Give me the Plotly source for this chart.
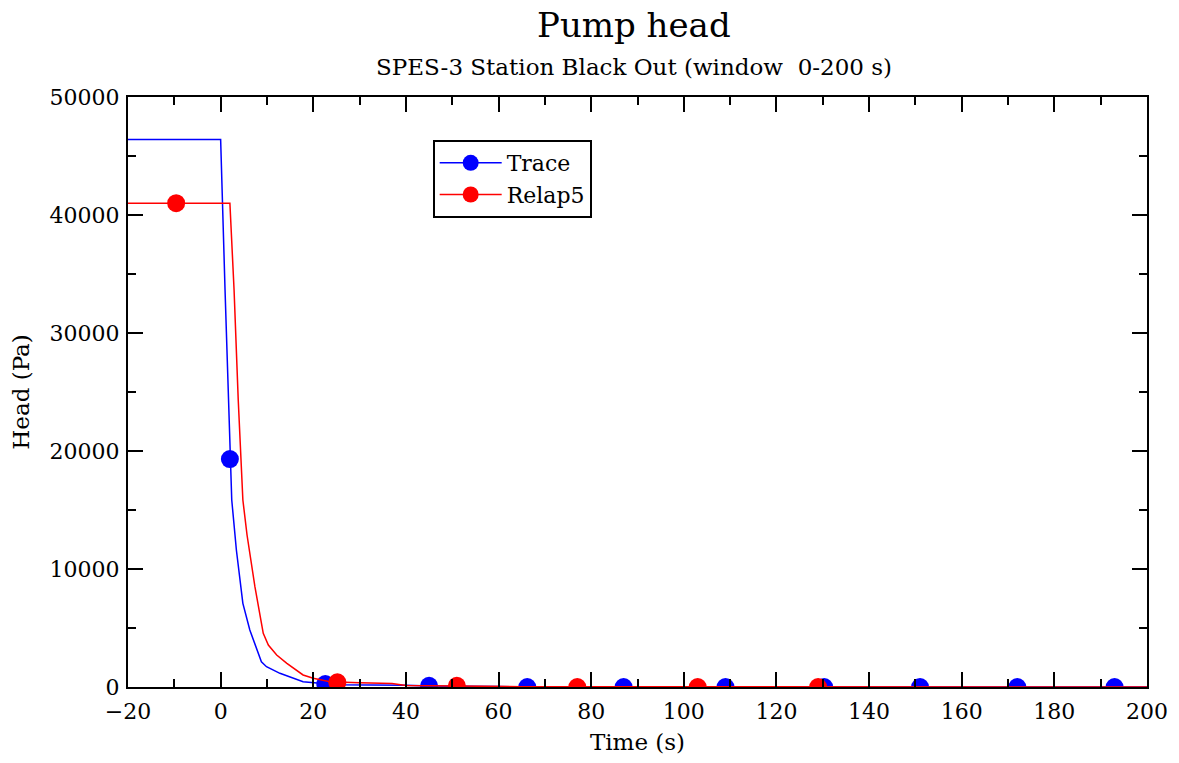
import plotly.graph_objects as go

# Trace (blue) line data
trace_t = [-20, 0.0, 0.95, 2.0, 2.4, 3.4, 4.8, 6.3, 8.8, 9.9, 12.8, 17.8, 21.4, 25, 40, 45, 60, 65, 200]
trace_h = [46400, 46400, 33640, 19320, 15850, 11610, 7090, 4830, 2140, 1720, 1160, 450, 310, 200, 150, 80, 50, 0, 0]
# Relap5 (red) line data
relap_t = [-20, 2.0, 2.9, 3.8, 4.8, 5.7, 7.4, 9.2, 10.3, 12.1, 14.3, 17.8, 20.0, 23.6, 30, 37, 40, 55, 65, 200]
relap_h = [41000, 41000, 33640, 24320, 15850, 12880, 8500, 4550, 3560, 2710, 2010, 1020, 740, 450, 350, 300, 120, 100, 30, 0]
# Symbol positions
trace_mt = [2.0, 22.6, 45.0, 66.2, 87.0, 109.0, 130.3, 151.0, 172.0, 193.0]
trace_mh = [19320, 250, 100, 0, 0, 0, 0, 0, 0, 0]
relap_mt = [-9.6, 25.2, 51.0, 77.0, 103.0, 129.0]
relap_mh = [41000, 400, 100, 0, 0, 0]

font = "DejaVu Serif, serif"
blue = "#0000ff"
red = "#ff0000"
msize = 18

fig = go.Figure()
fig.add_trace(go.Scatter(x=trace_t, y=trace_h, mode="lines", line=dict(color=blue, width=1.5), showlegend=False))
fig.add_trace(go.Scatter(x=trace_mt, y=trace_mh, mode="markers", marker=dict(color=blue, size=msize), showlegend=False))
fig.add_trace(go.Scatter(x=relap_t, y=relap_h, mode="lines", line=dict(color=red, width=1.5), showlegend=False))
fig.add_trace(go.Scatter(x=relap_mt, y=relap_mh, mode="markers", marker=dict(color=red, size=msize), showlegend=False))
fig.add_trace(go.Scatter(x=[None], y=[None], mode="lines+markers", name="Trace",
                         line=dict(color=blue, width=1.5), marker=dict(color=blue, size=msize)))
fig.add_trace(go.Scatter(x=[None], y=[None], mode="lines+markers", name="Relap5",
                         line=dict(color=red, width=1.5), marker=dict(color=red, size=msize)))

axis_common = dict(
    showgrid=False, zeroline=False, showline=True, linecolor="black", linewidth=2,
    mirror="allticks", ticks="inside", ticklen=15, tickwidth=2, tickcolor="black",
    tickfont=dict(family=font, size=22, color="black"), automargin=False, tickformat="d",
)
fig.update_xaxes(range=[-20, 200], dtick=20, tick0=0, ticklabelstandoff=4,
                 minor=dict(ticks="inside", ticklen=8, tickwidth=2, dtick=10, tickcolor="black"),
                 title=dict(text="Time (s)", font=dict(family=font, size=23, color="black"), standoff=10),
                 **axis_common)
fig.update_yaxes(range=[0, 50000], dtick=10000, tick0=0, ticklabelstandoff=2,
                 minor=dict(ticks="inside", ticklen=8, tickwidth=2, dtick=5000, tickcolor="black"),
                 title=dict(text="Head (Pa)", font=dict(family=font, size=23, color="black"), standoff=14),
                 **axis_common)

fig.update_layout(
    width=1179, height=763,
    margin=dict(l=128, r=32, t=97, b=76),
    plot_bgcolor="white", paper_bgcolor="white",
    font=dict(family=font, color="black"),
    legend=dict(x=0.299, y=0.927, xanchor="left", yanchor="top",
                bordercolor="black", borderwidth=2, bgcolor="white",
                font=dict(family=font, size=22, color="black"),
                itemwidth=62, tracegroupgap=0),
    annotations=[
        dict(text="Pump head", xref="paper", yref="paper", x=0.497, y=1.122,
             xanchor="center", yanchor="middle", showarrow=False,
             font=dict(family=font, size=34, color="black")),
        dict(text="SPES-3 Station Black Out (window  0-200 s)", xref="paper", yref="paper",
             x=0.497, y=1.0508, xanchor="center", yanchor="middle", showarrow=False,
             font=dict(family=font, size=23, color="black")),
    ],
)

fig.write_html("out.html", config={"displayModeBar": False},
               post_script="document.body.style.margin='0';")
